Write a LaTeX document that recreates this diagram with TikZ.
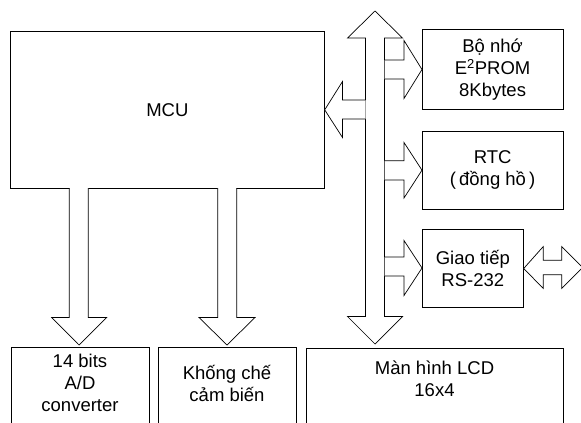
\documentclass[tikz,border=0pt]{standalone}
\usepackage{fontspec}
\setmainfont{Liberation Sans}
\begin{document}
\begin{tikzpicture}[x=1pt,y=-1pt,
  box/.style={draw=black, line width=0.7pt, fill=white, inner sep=0pt, anchor=north west},
  txt/.style={align=center, font=\fontsize{18.5}{22}\selectfont, inner sep=0pt},
  fat/.style={draw=black, line width=0.7pt, fill=white, line join=miter}]
\clip (0,0) rectangle (581,423);
\fill[white] (0,0) rectangle (581,423);
% bus
\draw[fat] (375,11) -- (402.5,38) -- (384.5,38) -- (384.5,316.5) -- (402.5,316.5) -- (375,344)
  -- (347.5,316.5) -- (365.5,316.5) -- (365.5,38) -- (347.5,38) -- cycle;
% boxes
\node[box, minimum width=314, minimum height=157] (mcu) at (10,31) {};
\node[box, minimum width=140.5, minimum height=79.5] (eep) at (422,29.3) {};
\node[box, minimum width=140.5, minimum height=78.3] (rtc) at (422,130.7) {};
\node[box, minimum width=101, minimum height=78.3] (rs) at (422,229) {};
\node[box, minimum width=138, minimum height=100] (ad) at (11,347) {};
\node[box, minimum width=138, minimum height=100] (kc) at (158,347) {};
\node[box, minimum width=257, minimum height=100] (lcd) at (306,347.5) {};
% texts
\node[txt] (mcut) at (mcu.center) {MCU};
\node[txt] (eept) at (eep.center) {Bộ nhớ\\E\textsuperscript{2}PROM\\8Kbytes};
\node[txt] (rtct) at (rtc.center) {RTC\\(\,đồng hồ\,)};
\node[txt] (rst) at (rs.center) {Giao tiếp\\RS-232};
\node[txt] (adt) at (80,383) {14 bits\\A/D\\converter};
\node[txt] (kct) at (227,383.5) {Khống chế\\cảm biến};
\node[txt] (lcdt) at (434.5,378.5) {Màn hình LCD\\16x4};
% bus -> MCU
\draw[fat] (365.5,100) -- (342.5,100) -- (342.5,81.5) -- (mcu.east) -- (342.5,137.5) -- (342.5,119) -- (365.5,119);
% bus -> right boxes
\draw[fat] (384.5,60) -- (404,60) -- (404,40.5) -- (422,69.5) -- (404,98.5) -- (404,79) -- (384.5,79);
\draw[fat] (384.5,160.7) -- (404,160.7) -- (404,142.5) -- (rtc.west) -- (404,198) -- (404,180) -- (384.5,180);
\draw[fat] (384.5,257) -- (404,257) -- (404,240.5) -- (422,268) -- (404,295.5) -- (404,276) -- (384.5,276);
% RS-232 double arrow
\draw[fat] (rs.east) -- (543.3,246.5) -- (543.3,260.3) -- (561.7,260.3) -- (561.7,246.5) -- (582.5,267.5)
  -- (561.7,288.5) -- (561.7,274.7) -- (543.3,274.7) -- (543.3,288.5) -- cycle;
% MCU -> A/D, sensors
\draw[fat] (69.3,188) -- (69.3,317.5) -- (51.7,317.5) -- (79,345) -- (106.7,317.5) -- (88.3,317.5) -- (88.3,188);
\draw[fat] (217.7,188) -- (217.7,317.5) -- (199,317.5) -- (227,345) -- (255,317.5) -- (236.7,317.5) -- (236.7,188);
\end{tikzpicture}
\end{document}
